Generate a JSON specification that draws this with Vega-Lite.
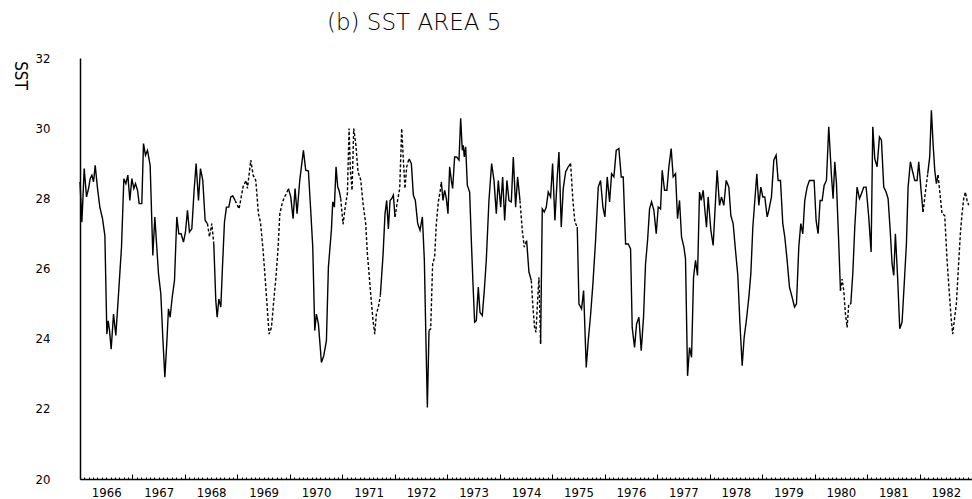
{
"$schema":"https://vega.github.io/schema/vega-lite/v6.json",
"width":892,"height":421,
"autosize":{"type":"none"},
"padding":{"left":80,"top":58,"right":0,"bottom":20},
"background":"white",
"title":{"text":"(b) SST AREA 5","anchor":"start","dx":247,"offset":17,"font":"DejaVu Sans","fontSize":23,"fontWeight":200,"color":"black","frame":"group"},
"config":{"view":{"stroke":null},"axis":{"domainColor":"black","domainWidth":1.5,"labelColor":"black","titleColor":"black","tickColor":"black","grid":false}},
"data":{"values":[
{"t":1966.000,"v":28.47,"g":1,"k":"o"},{"t":1966.036,"v":27.32,"g":1,"k":"o"},{"t":1966.080,"v":28.85,"g":1,"k":"o"},{"t":1966.124,"v":28.04,"g":1,"k":"o"},{"t":1966.163,"v":28.28,"g":1,"k":"o"},{"t":1966.194,"v":28.56,"g":1,"k":"o"},{"t":1966.226,"v":28.66,"g":1,"k":"o"},{"t":1966.258,"v":28.47,"g":1,"k":"o"},{"t":1966.290,"v":28.94,"g":1,"k":"o"},{"t":1966.334,"v":28.28,"g":1,"k":"o"},{"t":1966.378,"v":27.75,"g":1,"k":"o"},{"t":1966.429,"v":27.42,"g":1,"k":"o"},{"t":1966.474,"v":26.94,"g":1,"k":"o"},{"t":1966.512,"v":24.13,"g":1,"k":"o"},{"t":1966.537,"v":24.51,"g":1,"k":"o"},{"t":1966.563,"v":24.23,"g":1,"k":"o"},{"t":1966.594,"v":23.70,"g":1,"k":"o"},{"t":1966.639,"v":24.70,"g":1,"k":"o"},{"t":1966.683,"v":24.09,"g":1,"k":"o"},{"t":1966.728,"v":25.13,"g":1,"k":"o"},{"t":1966.791,"v":26.61,"g":1,"k":"o"},{"t":1966.836,"v":28.56,"g":1,"k":"o"},{"t":1966.874,"v":28.42,"g":1,"k":"o"},{"t":1966.912,"v":28.66,"g":1,"k":"o"},{"t":1966.950,"v":27.94,"g":1,"k":"o"},{"t":1966.988,"v":28.56,"g":1,"k":"o"},{"t":1967.026,"v":28.28,"g":1,"k":"o"},{"t":1967.058,"v":28.42,"g":1,"k":"o"},{"t":1967.096,"v":28.23,"g":1,"k":"o"},{"t":1967.128,"v":27.85,"g":1,"k":"o"},{"t":1967.178,"v":27.85,"g":1,"k":"o"},{"t":1967.210,"v":29.56,"g":1,"k":"o"},{"t":1967.248,"v":29.23,"g":1,"k":"o"},{"t":1967.286,"v":29.37,"g":1,"k":"o"},{"t":1967.337,"v":28.94,"g":1,"k":"o"},{"t":1967.388,"v":26.37,"g":1,"k":"o"},{"t":1967.426,"v":27.47,"g":1,"k":"o"},{"t":1967.496,"v":25.85,"g":1,"k":"o"},{"t":1967.540,"v":25.28,"g":1,"k":"o"},{"t":1967.578,"v":24.04,"g":1,"k":"o"},{"t":1967.617,"v":22.90,"g":1,"k":"o"},{"t":1967.655,"v":23.90,"g":1,"k":"o"},{"t":1967.686,"v":24.85,"g":1,"k":"o"},{"t":1967.718,"v":24.61,"g":1,"k":"o"},{"t":1967.757,"v":25.18,"g":1,"k":"o"},{"t":1967.801,"v":25.66,"g":1,"k":"o"},{"t":1967.845,"v":27.47,"g":1,"k":"o"},{"t":1967.883,"v":26.99,"g":1,"k":"o"},{"t":1967.928,"v":26.99,"g":1,"k":"o"},{"t":1967.972,"v":26.75,"g":1,"k":"o"},{"t":1968.010,"v":27.04,"g":1,"k":"o"},{"t":1968.048,"v":27.66,"g":1,"k":"o"},{"t":1968.086,"v":27.04,"g":1,"k":"o"},{"t":1968.131,"v":27.13,"g":1,"k":"o"},{"t":1968.175,"v":28.23,"g":1,"k":"o"},{"t":1968.213,"v":28.99,"g":1,"k":"o"},{"t":1968.258,"v":27.94,"g":1,"k":"o"},{"t":1968.296,"v":28.85,"g":1,"k":"o"},{"t":1968.340,"v":28.51,"g":1,"k":"o"},{"t":1968.385,"v":27.37,"g":1,"k":"o"},{"t":1968.429,"v":27.28,"g":1,"k":"o"},
{"t":1968.429,"v":27.28,"g":2,"k":"e"},{"t":1968.467,"v":26.90,"g":2,"k":"e"},{"t":1968.512,"v":27.28,"g":2,"k":"e"},{"t":1968.550,"v":26.70,"g":2,"k":"e"},
{"t":1968.550,"v":26.70,"g":3,"k":"o"},{"t":1968.588,"v":25.09,"g":3,"k":"o"},{"t":1968.614,"v":24.61,"g":3,"k":"o"},{"t":1968.646,"v":25.13,"g":3,"k":"o"},{"t":1968.684,"v":24.90,"g":3,"k":"o"},{"t":1968.715,"v":26.04,"g":3,"k":"o"},{"t":1968.753,"v":27.32,"g":3,"k":"o"},{"t":1968.791,"v":27.75,"g":3,"k":"o"},{"t":1968.836,"v":27.75,"g":3,"k":"o"},{"t":1968.874,"v":28.04,"g":3,"k":"o"},{"t":1968.912,"v":28.07,"g":3,"k":"o"},{"t":1968.956,"v":27.94,"g":3,"k":"o"},
{"t":1968.956,"v":27.94,"g":4,"k":"e"},{"t":1969.032,"v":27.70,"g":4,"k":"e"},{"t":1969.109,"v":28.34,"g":4,"k":"e"},{"t":1969.166,"v":28.51,"g":4,"k":"e"},{"t":1969.191,"v":28.28,"g":4,"k":"e"},{"t":1969.255,"v":29.09,"g":4,"k":"e"},{"t":1969.299,"v":28.66,"g":4,"k":"e"},{"t":1969.350,"v":28.51,"g":4,"k":"e"},{"t":1969.401,"v":27.56,"g":4,"k":"e"},{"t":1969.439,"v":27.32,"g":4,"k":"e"},{"t":1969.490,"v":26.51,"g":4,"k":"e"},{"t":1969.541,"v":25.47,"g":4,"k":"e"},{"t":1969.579,"v":24.66,"g":4,"k":"e"},{"t":1969.604,"v":24.13,"g":4,"k":"e"},{"t":1969.649,"v":24.32,"g":4,"k":"e"},{"t":1969.687,"v":24.99,"g":4,"k":"e"},{"t":1969.732,"v":25.70,"g":4,"k":"e"},{"t":1969.776,"v":26.61,"g":4,"k":"e"},{"t":1969.808,"v":27.56,"g":4,"k":"e"},{"t":1969.852,"v":27.85,"g":4,"k":"e"},{"t":1969.896,"v":28.04,"g":4,"k":"e"},{"t":1969.934,"v":28.13,"g":4,"k":"e"},{"t":1969.972,"v":28.28,"g":4,"k":"e"},
{"t":1969.972,"v":28.28,"g":5,"k":"o"},{"t":1970.017,"v":28.04,"g":5,"k":"o"},{"t":1970.061,"v":27.42,"g":5,"k":"o"},{"t":1970.099,"v":28.28,"g":5,"k":"o"},{"t":1970.137,"v":27.56,"g":5,"k":"o"},{"t":1970.188,"v":28.51,"g":5,"k":"o"},{"t":1970.258,"v":29.37,"g":5,"k":"o"},{"t":1970.302,"v":28.80,"g":5,"k":"o"},{"t":1970.353,"v":28.78,"g":5,"k":"o"},{"t":1970.397,"v":27.66,"g":5,"k":"o"},{"t":1970.436,"v":26.61,"g":5,"k":"o"},{"t":1970.474,"v":24.23,"g":5,"k":"o"},{"t":1970.505,"v":24.70,"g":5,"k":"o"},{"t":1970.544,"v":24.42,"g":5,"k":"o"},{"t":1970.601,"v":23.32,"g":5,"k":"o"},{"t":1970.645,"v":23.51,"g":5,"k":"o"},{"t":1970.696,"v":23.94,"g":5,"k":"o"},{"t":1970.734,"v":26.04,"g":5,"k":"o"},{"t":1970.791,"v":27.09,"g":5,"k":"o"},{"t":1970.817,"v":27.90,"g":5,"k":"o"},{"t":1970.848,"v":27.75,"g":5,"k":"o"},{"t":1970.880,"v":28.90,"g":5,"k":"o"},{"t":1970.912,"v":28.32,"g":5,"k":"o"},{"t":1970.937,"v":28.23,"g":5,"k":"o"},{"t":1970.969,"v":27.99,"g":5,"k":"o"},
{"t":1970.969,"v":27.99,"g":6,"k":"e"},{"t":1971.013,"v":27.26,"g":6,"k":"e"},{"t":1971.064,"v":27.85,"g":6,"k":"e"},{"t":1971.096,"v":28.13,"g":6,"k":"e"},{"t":1971.128,"v":29.99,"g":6,"k":"e"},{"t":1971.153,"v":28.80,"g":6,"k":"e"},{"t":1971.185,"v":28.23,"g":6,"k":"e"},{"t":1971.217,"v":29.99,"g":6,"k":"e"},{"t":1971.255,"v":29.56,"g":6,"k":"e"},{"t":1971.299,"v":28.75,"g":6,"k":"e"},{"t":1971.350,"v":28.53,"g":6,"k":"e"},{"t":1971.394,"v":27.85,"g":6,"k":"e"},{"t":1971.445,"v":27.28,"g":6,"k":"e"},{"t":1971.477,"v":26.42,"g":6,"k":"e"},{"t":1971.509,"v":25.85,"g":6,"k":"e"},{"t":1971.540,"v":25.28,"g":6,"k":"e"},{"t":1971.585,"v":24.51,"g":6,"k":"e"},{"t":1971.617,"v":24.13,"g":6,"k":"e"},{"t":1971.648,"v":24.70,"g":6,"k":"e"},{"t":1971.686,"v":24.90,"g":6,"k":"e"},{"t":1971.724,"v":25.23,"g":6,"k":"e"},
{"t":1971.724,"v":25.23,"g":7,"k":"o"},{"t":1971.775,"v":26.37,"g":7,"k":"o"},{"t":1971.813,"v":27.56,"g":7,"k":"o"},{"t":1971.845,"v":27.94,"g":7,"k":"o"},{"t":1971.877,"v":27.13,"g":7,"k":"o"},{"t":1971.909,"v":27.94,"g":7,"k":"o"},{"t":1971.940,"v":27.99,"g":7,"k":"o"},{"t":1971.972,"v":28.09,"g":7,"k":"o"},{"t":1972.004,"v":27.47,"g":7,"k":"o"},
{"t":1972.004,"v":27.47,"g":8,"k":"e"},{"t":1972.048,"v":27.90,"g":8,"k":"e"},{"t":1972.093,"v":28.28,"g":8,"k":"e"},{"t":1972.131,"v":29.99,"g":8,"k":"e"},{"t":1972.163,"v":29.09,"g":8,"k":"e"},{"t":1972.194,"v":28.28,"g":8,"k":"e"},{"t":1972.226,"v":28.90,"g":8,"k":"e"},{"t":1972.270,"v":29.13,"g":8,"k":"e"},
{"t":1972.270,"v":29.13,"g":9,"k":"o"},{"t":1972.315,"v":28.99,"g":9,"k":"o"},{"t":1972.353,"v":28.09,"g":9,"k":"o"},{"t":1972.391,"v":27.94,"g":9,"k":"o"},{"t":1972.436,"v":27.28,"g":9,"k":"o"},{"t":1972.480,"v":27.09,"g":9,"k":"o"},{"t":1972.525,"v":27.47,"g":9,"k":"o"},{"t":1972.563,"v":26.23,"g":9,"k":"o"},{"t":1972.588,"v":24.32,"g":9,"k":"o"},{"t":1972.620,"v":22.04,"g":9,"k":"o"},{"t":1972.652,"v":24.23,"g":9,"k":"o"},
{"t":1972.652,"v":24.23,"g":10,"k":"e"},{"t":1972.683,"v":24.28,"g":10,"k":"e"},{"t":1972.721,"v":26.13,"g":10,"k":"e"},{"t":1972.759,"v":26.32,"g":10,"k":"e"},{"t":1972.791,"v":27.28,"g":10,"k":"e"},{"t":1972.829,"v":27.90,"g":10,"k":"e"},{"t":1972.867,"v":28.23,"g":10,"k":"e"},{"t":1972.886,"v":28.47,"g":10,"k":"e"},
{"t":1972.886,"v":28.47,"g":11,"k":"o"},{"t":1972.918,"v":27.94,"g":11,"k":"o"},{"t":1972.950,"v":28.23,"g":11,"k":"o"},{"t":1972.982,"v":27.99,"g":11,"k":"o"},{"t":1973.013,"v":27.56,"g":11,"k":"o"},{"t":1973.045,"v":28.90,"g":11,"k":"o"},{"t":1973.077,"v":28.51,"g":11,"k":"o"},{"t":1973.102,"v":28.28,"g":11,"k":"o"},{"t":1973.140,"v":29.18,"g":11,"k":"o"},{"t":1973.178,"v":29.18,"g":11,"k":"o"},{"t":1973.223,"v":29.09,"g":11,"k":"o"},{"t":1973.255,"v":30.28,"g":11,"k":"o"},{"t":1973.286,"v":29.37,"g":11,"k":"o"},{"t":1973.305,"v":29.51,"g":11,"k":"o"},{"t":1973.324,"v":29.18,"g":11,"k":"o"},{"t":1973.350,"v":29.47,"g":11,"k":"o"},{"t":1973.382,"v":28.37,"g":11,"k":"o"},{"t":1973.426,"v":28.18,"g":11,"k":"o"},{"t":1973.458,"v":26.80,"g":11,"k":"o"},{"t":1973.490,"v":25.56,"g":11,"k":"o"},{"t":1973.521,"v":24.47,"g":11,"k":"o"},{"t":1973.553,"v":24.51,"g":11,"k":"o"},{"t":1973.591,"v":25.47,"g":11,"k":"o"},{"t":1973.623,"v":24.75,"g":11,"k":"o"},{"t":1973.667,"v":24.66,"g":11,"k":"o"},{"t":1973.705,"v":25.37,"g":11,"k":"o"},{"t":1973.743,"v":26.23,"g":11,"k":"o"},{"t":1973.794,"v":27.94,"g":11,"k":"o"},{"t":1973.845,"v":28.99,"g":11,"k":"o"},{"t":1973.890,"v":28.51,"g":11,"k":"o"},{"t":1973.934,"v":27.56,"g":11,"k":"o"},{"t":1973.972,"v":28.51,"g":11,"k":"o"},{"t":1974.017,"v":27.75,"g":11,"k":"o"},{"t":1974.055,"v":28.61,"g":11,"k":"o"},{"t":1974.093,"v":27.37,"g":11,"k":"o"},{"t":1974.137,"v":28.51,"g":11,"k":"o"},{"t":1974.175,"v":27.94,"g":11,"k":"o"},{"t":1974.220,"v":27.90,"g":11,"k":"o"},{"t":1974.258,"v":29.18,"g":11,"k":"o"},{"t":1974.302,"v":27.75,"g":11,"k":"o"},{"t":1974.340,"v":28.61,"g":11,"k":"o"},{"t":1974.385,"v":27.94,"g":11,"k":"o"},
{"t":1974.385,"v":27.94,"g":12,"k":"e"},{"t":1974.429,"v":27.09,"g":12,"k":"e"},{"t":1974.467,"v":26.61,"g":12,"k":"e"},{"t":1974.512,"v":26.80,"g":12,"k":"e"},
{"t":1974.512,"v":26.80,"g":13,"k":"o"},{"t":1974.556,"v":25.90,"g":13,"k":"o"},{"t":1974.601,"v":25.66,"g":13,"k":"o"},
{"t":1974.601,"v":25.66,"g":14,"k":"e"},{"t":1974.632,"v":24.90,"g":14,"k":"e"},{"t":1974.664,"v":24.32,"g":14,"k":"e"},{"t":1974.690,"v":24.18,"g":14,"k":"e"},{"t":1974.721,"v":25.09,"g":14,"k":"e"},{"t":1974.747,"v":25.75,"g":14,"k":"e"},{"t":1974.778,"v":23.85,"g":14,"k":"e"},
{"t":1974.778,"v":23.85,"g":15,"k":"o"},{"t":1974.810,"v":27.70,"g":15,"k":"o"},{"t":1974.848,"v":27.61,"g":15,"k":"o"},{"t":1974.886,"v":27.75,"g":15,"k":"o"},{"t":1974.924,"v":28.18,"g":15,"k":"o"},{"t":1974.969,"v":28.04,"g":15,"k":"o"},{"t":1975.007,"v":28.99,"g":15,"k":"o"},{"t":1975.051,"v":27.37,"g":15,"k":"o"},{"t":1975.096,"v":28.61,"g":15,"k":"o"},{"t":1975.128,"v":29.32,"g":15,"k":"o"},{"t":1975.172,"v":27.18,"g":15,"k":"o"},{"t":1975.210,"v":28.28,"g":15,"k":"o"},{"t":1975.255,"v":28.75,"g":15,"k":"o"},{"t":1975.305,"v":28.90,"g":15,"k":"o"},{"t":1975.350,"v":28.99,"g":15,"k":"o"},
{"t":1975.350,"v":28.99,"g":16,"k":"e"},{"t":1975.394,"v":27.94,"g":16,"k":"e"},{"t":1975.432,"v":27.32,"g":16,"k":"e"},{"t":1975.477,"v":27.18,"g":16,"k":"e"},
{"t":1975.477,"v":27.18,"g":17,"k":"o"},{"t":1975.509,"v":24.99,"g":17,"k":"o"},{"t":1975.559,"v":24.85,"g":17,"k":"o"},{"t":1975.598,"v":25.37,"g":17,"k":"o"},{"t":1975.648,"v":23.18,"g":17,"k":"o"},{"t":1975.686,"v":23.94,"g":17,"k":"o"},{"t":1975.730,"v":24.66,"g":17,"k":"o"},{"t":1975.775,"v":25.56,"g":17,"k":"o"},{"t":1975.826,"v":26.80,"g":17,"k":"o"},{"t":1975.877,"v":28.32,"g":17,"k":"o"},{"t":1975.921,"v":28.51,"g":17,"k":"o"},{"t":1975.966,"v":27.75,"g":17,"k":"o"},{"t":1976.004,"v":27.47,"g":17,"k":"o"},{"t":1976.048,"v":28.61,"g":17,"k":"o"},{"t":1976.093,"v":27.90,"g":17,"k":"o"},{"t":1976.131,"v":28.70,"g":17,"k":"o"},{"t":1976.175,"v":28.61,"g":17,"k":"o"},{"t":1976.220,"v":29.37,"g":17,"k":"o"},{"t":1976.270,"v":29.42,"g":17,"k":"o"},{"t":1976.315,"v":28.61,"g":17,"k":"o"},{"t":1976.353,"v":28.61,"g":17,"k":"o"},{"t":1976.398,"v":26.70,"g":17,"k":"o"},{"t":1976.448,"v":26.70,"g":17,"k":"o"},{"t":1976.493,"v":26.56,"g":17,"k":"o"},{"t":1976.524,"v":24.32,"g":17,"k":"o"},{"t":1976.569,"v":23.75,"g":17,"k":"o"},{"t":1976.607,"v":24.42,"g":17,"k":"o"},{"t":1976.652,"v":24.61,"g":17,"k":"o"},{"t":1976.696,"v":23.66,"g":17,"k":"o"},{"t":1976.740,"v":24.61,"g":17,"k":"o"},{"t":1976.778,"v":26.13,"g":17,"k":"o"},{"t":1976.817,"v":26.80,"g":17,"k":"o"},{"t":1976.855,"v":27.70,"g":17,"k":"o"},{"t":1976.893,"v":27.90,"g":17,"k":"o"},{"t":1976.937,"v":27.66,"g":17,"k":"o"},{"t":1976.982,"v":26.99,"g":17,"k":"o"},{"t":1977.020,"v":27.75,"g":17,"k":"o"},{"t":1977.064,"v":27.70,"g":17,"k":"o"},{"t":1977.096,"v":28.80,"g":17,"k":"o"},{"t":1977.140,"v":28.23,"g":17,"k":"o"},{"t":1977.185,"v":28.23,"g":17,"k":"o"},{"t":1977.223,"v":28.90,"g":17,"k":"o"},{"t":1977.267,"v":29.42,"g":17,"k":"o"},{"t":1977.305,"v":28.61,"g":17,"k":"o"},{"t":1977.350,"v":28.70,"g":17,"k":"o"},{"t":1977.388,"v":27.42,"g":17,"k":"o"},{"t":1977.426,"v":27.94,"g":17,"k":"o"},{"t":1977.464,"v":26.90,"g":17,"k":"o"},{"t":1977.509,"v":26.61,"g":17,"k":"o"},{"t":1977.540,"v":26.28,"g":17,"k":"o"},{"t":1977.579,"v":22.94,"g":17,"k":"o"},{"t":1977.617,"v":23.75,"g":17,"k":"o"},{"t":1977.655,"v":23.47,"g":17,"k":"o"},{"t":1977.693,"v":25.75,"g":17,"k":"o"},{"t":1977.731,"v":26.23,"g":17,"k":"o"},{"t":1977.769,"v":25.80,"g":17,"k":"o"},{"t":1977.807,"v":28.18,"g":17,"k":"o"},{"t":1977.839,"v":27.94,"g":17,"k":"o"},{"t":1977.877,"v":28.23,"g":17,"k":"o"},{"t":1977.909,"v":27.66,"g":17,"k":"o"},{"t":1977.940,"v":27.18,"g":17,"k":"o"},{"t":1977.972,"v":28.04,"g":17,"k":"o"},{"t":1978.023,"v":27.09,"g":17,"k":"o"},{"t":1978.067,"v":26.66,"g":17,"k":"o"},{"t":1978.112,"v":27.94,"g":17,"k":"o"},{"t":1978.143,"v":28.80,"g":17,"k":"o"},{"t":1978.188,"v":27.80,"g":17,"k":"o"},{"t":1978.226,"v":28.04,"g":17,"k":"o"},{"t":1978.270,"v":27.80,"g":17,"k":"o"},{"t":1978.315,"v":28.51,"g":17,"k":"o"},{"t":1978.366,"v":28.32,"g":17,"k":"o"},{"t":1978.404,"v":27.51,"g":17,"k":"o"},{"t":1978.448,"v":27.28,"g":17,"k":"o"},{"t":1978.493,"v":26.51,"g":17,"k":"o"},{"t":1978.537,"v":25.80,"g":17,"k":"o"},{"t":1978.575,"v":24.51,"g":17,"k":"o"},{"t":1978.620,"v":23.23,"g":17,"k":"o"},{"t":1978.658,"v":24.04,"g":17,"k":"o"},{"t":1978.696,"v":24.47,"g":17,"k":"o"},{"t":1978.747,"v":25.18,"g":17,"k":"o"},{"t":1978.785,"v":25.85,"g":17,"k":"o"},{"t":1978.823,"v":27.18,"g":17,"k":"o"},{"t":1978.861,"v":27.94,"g":17,"k":"o"},{"t":1978.899,"v":28.70,"g":17,"k":"o"},{"t":1978.937,"v":27.80,"g":17,"k":"o"},{"t":1978.975,"v":28.32,"g":17,"k":"o"},{"t":1979.013,"v":28.04,"g":17,"k":"o"},{"t":1979.051,"v":28.04,"g":17,"k":"o"},{"t":1979.096,"v":27.47,"g":17,"k":"o"},{"t":1979.128,"v":27.66,"g":17,"k":"o"},{"t":1979.178,"v":28.04,"g":17,"k":"o"},{"t":1979.223,"v":29.09,"g":17,"k":"o"},{"t":1979.267,"v":29.23,"g":17,"k":"o"},{"t":1979.305,"v":28.51,"g":17,"k":"o"},{"t":1979.350,"v":28.51,"g":17,"k":"o"},{"t":1979.394,"v":27.28,"g":17,"k":"o"},{"t":1979.432,"v":26.90,"g":17,"k":"o"},{"t":1979.477,"v":26.23,"g":17,"k":"o"},{"t":1979.521,"v":25.47,"g":17,"k":"o"},{"t":1979.572,"v":25.18,"g":17,"k":"o"},{"t":1979.617,"v":24.90,"g":17,"k":"o"},{"t":1979.655,"v":24.99,"g":17,"k":"o"},{"t":1979.699,"v":26.61,"g":17,"k":"o"},{"t":1979.737,"v":27.28,"g":17,"k":"o"},{"t":1979.775,"v":26.99,"g":17,"k":"o"},{"t":1979.813,"v":27.94,"g":17,"k":"o"},{"t":1979.858,"v":28.32,"g":17,"k":"o"},{"t":1979.902,"v":28.51,"g":17,"k":"o"},{"t":1979.953,"v":28.51,"g":17,"k":"o"},{"t":1979.991,"v":28.51,"g":17,"k":"o"},{"t":1980.029,"v":27.37,"g":17,"k":"o"},{"t":1980.067,"v":26.99,"g":17,"k":"o"},{"t":1980.105,"v":27.94,"g":17,"k":"o"},{"t":1980.144,"v":27.94,"g":17,"k":"o"},{"t":1980.182,"v":28.37,"g":17,"k":"o"},{"t":1980.226,"v":28.51,"g":17,"k":"o"},{"t":1980.270,"v":30.04,"g":17,"k":"o"},{"t":1980.321,"v":28.66,"g":17,"k":"o"},{"t":1980.353,"v":27.99,"g":17,"k":"o"},{"t":1980.385,"v":29.04,"g":17,"k":"o"},{"t":1980.417,"v":28.42,"g":17,"k":"o"},{"t":1980.461,"v":26.70,"g":17,"k":"o"},{"t":1980.493,"v":25.37,"g":17,"k":"o"},
{"t":1980.493,"v":25.37,"g":18,"k":"e"},{"t":1980.524,"v":25.70,"g":18,"k":"e"},{"t":1980.556,"v":25.37,"g":18,"k":"e"},{"t":1980.588,"v":24.70,"g":18,"k":"e"},{"t":1980.620,"v":24.32,"g":18,"k":"e"},{"t":1980.651,"v":24.99,"g":18,"k":"e"},{"t":1980.690,"v":24.99,"g":18,"k":"e"},
{"t":1980.690,"v":24.99,"g":19,"k":"o"},{"t":1980.728,"v":25.85,"g":19,"k":"o"},{"t":1980.766,"v":27.18,"g":19,"k":"o"},{"t":1980.810,"v":28.32,"g":19,"k":"o"},{"t":1980.855,"v":27.99,"g":19,"k":"o"},{"t":1980.893,"v":28.13,"g":19,"k":"o"},{"t":1980.937,"v":28.32,"g":19,"k":"o"},{"t":1980.982,"v":28.32,"g":19,"k":"o"},{"t":1981.032,"v":27.47,"g":19,"k":"o"},{"t":1981.077,"v":26.47,"g":19,"k":"o"},{"t":1981.109,"v":30.04,"g":19,"k":"o"},{"t":1981.147,"v":29.13,"g":19,"k":"o"},{"t":1981.191,"v":28.90,"g":19,"k":"o"},{"t":1981.236,"v":29.75,"g":19,"k":"o"},{"t":1981.274,"v":29.66,"g":19,"k":"o"},{"t":1981.318,"v":28.32,"g":19,"k":"o"},{"t":1981.363,"v":28.18,"g":19,"k":"o"},{"t":1981.401,"v":27.99,"g":19,"k":"o"},{"t":1981.445,"v":26.99,"g":19,"k":"o"},{"t":1981.477,"v":26.13,"g":19,"k":"o"},{"t":1981.509,"v":25.80,"g":19,"k":"o"},{"t":1981.540,"v":26.99,"g":19,"k":"o"},{"t":1981.585,"v":25.66,"g":19,"k":"o"},{"t":1981.623,"v":24.28,"g":19,"k":"o"},{"t":1981.667,"v":24.47,"g":19,"k":"o"},{"t":1981.712,"v":25.66,"g":19,"k":"o"},{"t":1981.750,"v":26.70,"g":19,"k":"o"},{"t":1981.782,"v":28.32,"g":19,"k":"o"},{"t":1981.826,"v":29.04,"g":19,"k":"o"},{"t":1981.870,"v":28.75,"g":19,"k":"o"},{"t":1981.909,"v":28.51,"g":19,"k":"o"},{"t":1981.953,"v":28.51,"g":19,"k":"o"},{"t":1981.985,"v":29.04,"g":19,"k":"o"},{"t":1982.029,"v":28.23,"g":19,"k":"o"},{"t":1982.067,"v":27.61,"g":19,"k":"o"},
{"t":1982.067,"v":27.61,"g":20,"k":"e"},{"t":1982.112,"v":28.18,"g":20,"k":"e"},{"t":1982.156,"v":28.70,"g":20,"k":"e"},
{"t":1982.156,"v":28.70,"g":21,"k":"o"},{"t":1982.194,"v":29.18,"g":21,"k":"o"},{"t":1982.226,"v":30.51,"g":21,"k":"o"},{"t":1982.258,"v":29.56,"g":21,"k":"o"},{"t":1982.290,"v":28.80,"g":21,"k":"o"},{"t":1982.321,"v":28.42,"g":21,"k":"o"},{"t":1982.353,"v":28.66,"g":21,"k":"o"},
{"t":1982.353,"v":28.66,"g":22,"k":"e"},{"t":1982.429,"v":27.56,"g":22,"k":"e"},{"t":1982.480,"v":27.51,"g":22,"k":"e"},{"t":1982.525,"v":26.23,"g":22,"k":"e"},{"t":1982.569,"v":25.28,"g":22,"k":"e"},{"t":1982.601,"v":24.61,"g":22,"k":"e"},{"t":1982.632,"v":24.13,"g":22,"k":"e"},{"t":1982.670,"v":24.61,"g":22,"k":"e"},{"t":1982.702,"v":24.99,"g":22,"k":"e"},{"t":1982.734,"v":25.85,"g":22,"k":"e"},{"t":1982.778,"v":26.99,"g":22,"k":"e"},{"t":1982.810,"v":27.56,"g":22,"k":"e"},{"t":1982.842,"v":27.99,"g":22,"k":"e"},{"t":1982.874,"v":28.18,"g":22,"k":"e"},{"t":1982.905,"v":27.94,"g":22,"k":"e"},{"t":1982.937,"v":27.80,"g":22,"k":"e"}
]},
"mark":{"type":"line","color":"black","strokeWidth":1.4},
"encoding":{
"x":{"field":"t","type":"quantitative","scale":{"domain":[1966,1983],"nice":false,"zero":false},
"axis":{"title":null,
"values":[1966,1966.0833,1966.1667,1966.25,1966.3333,1966.4167,1966.5,1966.5833,1966.6667,1966.75,1966.8333,1966.9167,
1967,1967.0833,1967.1667,1967.25,1967.3333,1967.4167,1967.5,1967.5833,1967.6667,1967.75,1967.8333,1967.9167,
1968,1968.0833,1968.1667,1968.25,1968.3333,1968.4167,1968.5,1968.5833,1968.6667,1968.75,1968.8333,1968.9167,
1969,1969.0833,1969.1667,1969.25,1969.3333,1969.4167,1969.5,1969.5833,1969.6667,1969.75,1969.8333,1969.9167,
1970,1970.0833,1970.1667,1970.25,1970.3333,1970.4167,1970.5,1970.5833,1970.6667,1970.75,1970.8333,1970.9167,
1971,1971.0833,1971.1667,1971.25,1971.3333,1971.4167,1971.5,1971.5833,1971.6667,1971.75,1971.8333,1971.9167,
1972,1972.0833,1972.1667,1972.25,1972.3333,1972.4167,1972.5,1972.5833,1972.6667,1972.75,1972.8333,1972.9167,
1973,1973.0833,1973.1667,1973.25,1973.3333,1973.4167,1973.5,1973.5833,1973.6667,1973.75,1973.8333,1973.9167,
1974,1974.0833,1974.1667,1974.25,1974.3333,1974.4167,1974.5,1974.5833,1974.6667,1974.75,1974.8333,1974.9167,
1975,1975.0833,1975.1667,1975.25,1975.3333,1975.4167,1975.5,1975.5833,1975.6667,1975.75,1975.8333,1975.9167,
1976,1976.0833,1976.1667,1976.25,1976.3333,1976.4167,1976.5,1976.5833,1976.6667,1976.75,1976.8333,1976.9167,
1977,1977.0833,1977.1667,1977.25,1977.3333,1977.4167,1977.5,1977.5833,1977.6667,1977.75,1977.8333,1977.9167,
1978,1978.0833,1978.1667,1978.25,1978.3333,1978.4167,1978.5,1978.5833,1978.6667,1978.75,1978.8333,1978.9167,
1979,1979.0833,1979.1667,1979.25,1979.3333,1979.4167,1979.5,1979.5833,1979.6667,1979.75,1979.8333,1979.9167,
1980,1980.0833,1980.1667,1980.25,1980.3333,1980.4167,1980.5,1980.5833,1980.6667,1980.75,1980.8333,1980.9167,
1981,1981.0833,1981.1667,1981.25,1981.3333,1981.4167,1981.5,1981.5833,1981.6667,1981.75,1981.8333,1981.9167,
1982,1982.0833,1982.1667,1982.25,1982.3333,1982.4167,1982.5,1982.5833,1982.6667,1982.75,1982.8333,1982.9167],
"labelExpr":"abs((datum.value % 1) - 0.5) < 0.01 ? format(floor(datum.value),'d') : ''",
"ticks":true,"tickWidth":1,"tickColor":"black",
"tickSize":{"condition":{"test":"abs(datum.value - round(datum.value)) < 0.01","value":-5},"value":-2},
"labelPadding":9,"labelFont":"DejaVu Sans Condensed","labelFontSize":13,"labelOverlap":false,"labelFlush":false,"labelBound":false}},
"y":{"field":"v","type":"quantitative","scale":{"domain":[20,32],"nice":false,"zero":false},
"axis":{"title":"SST","titleAngle":90,"titleX":-61,"titleY":17,"titleAlign":"center","titleBaseline":"middle","titleFont":"DejaVu Sans Condensed","titleFontSize":17,"titleFontWeight":"normal","values":[20,22,24,26,28,30,32],"ticks":false,"tickSize":0,"labelPadding":30,"labelFont":"DejaVu Sans Condensed","labelFontSize":13,"labelOverlap":false,"labelFlush":false,"labelBound":false}},
"strokeDash":{"field":"k","type":"nominal","scale":{"domain":["o","e"],"range":[[1,0],[3,2]]},"legend":null},
"detail":{"field":"g","type":"nominal"}
}
}
